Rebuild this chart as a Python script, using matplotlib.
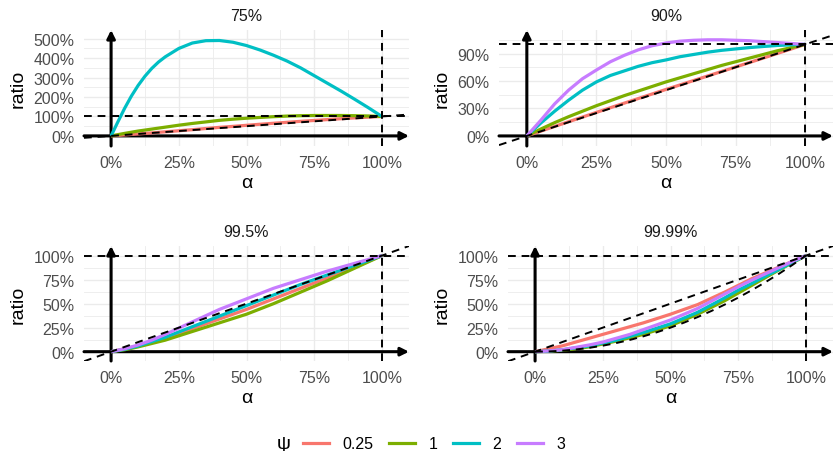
import matplotlib
matplotlib.use("Agg")
import matplotlib.pyplot as plt
from matplotlib.lines import Line2D

plt.rcParams['font.family'] = ['Liberation Sans', 'DejaVu Sans']

# ---------------- data ----------------
alpha = [0.00, 0.05, 0.10, 0.15, 0.20, 0.25, 0.30, 0.35, 0.40, 0.45, 0.50,
         0.55, 0.60, 0.65, 0.70, 0.75, 0.80, 0.85, 0.90, 0.95, 1.00]
alpha_fine = [0.00, 0.025, 0.05, 0.075, 0.10, 0.125, 0.15, 0.175, 0.20, 0.25, 0.30,
              0.35, 0.40, 0.45, 0.50, 0.55, 0.60, 0.65, 0.70, 0.75, 0.80,
              0.85, 0.90, 0.95, 1.00]

psi_labels = ["0.25", "1", "2", "3"]
psi_colors = ["#F8766D", "#7CAE00", "#00BFC4", "#C77CFF"]
panel_titles = ["75%", "90%", "99.5%", "99.99%"]

# level 75%
r75_psi025 = [0, 0.05, 0.10, 0.155, 0.21, 0.265, 0.32, 0.38, 0.44, 0.49, 0.545,
              0.60, 0.65, 0.70, 0.75, 0.795, 0.84, 0.885, 0.925, 0.965, 1.0]
r75_psi1 = [0, 0.13, 0.25, 0.35, 0.45, 0.55, 0.64, 0.72, 0.80, 0.86, 0.91,
            0.95, 0.99, 1.02, 1.04, 1.05, 1.05, 1.05, 1.04, 1.025, 1.0]
r75_psi2 = [0, 0.72, 1.42, 2.05, 2.60, 3.07, 3.47, 3.80, 4.07, 4.50, 4.78,
            4.90, 4.91, 4.82, 4.65, 4.42, 4.15, 3.85, 3.50, 3.10, 2.70,
            2.30, 1.88, 1.45, 1.0]

# level 90%
r90_psi025 = [0, 0.052, 0.104, 0.155, 0.206, 0.257, 0.308, 0.358, 0.408, 0.458, 0.508,
              0.557, 0.606, 0.655, 0.704, 0.753, 0.802, 0.851, 0.901, 0.950, 1.0]
r90_psi1 = [0, 0.075, 0.145, 0.21, 0.27, 0.33, 0.385, 0.44, 0.49, 0.54, 0.59,
            0.635, 0.68, 0.725, 0.77, 0.81, 0.85, 0.89, 0.93, 0.965, 1.0]
r90_psi2 = [0, 0.14, 0.27, 0.39, 0.50, 0.59, 0.66, 0.71, 0.76, 0.80, 0.83,
            0.865, 0.89, 0.915, 0.935, 0.95, 0.965, 0.977, 0.988, 0.995, 1.0]
r90_psi3 = [0, 0.17, 0.35, 0.50, 0.625, 0.72, 0.81, 0.88, 0.94, 0.985, 1.015,
            1.035, 1.045, 1.05, 1.05, 1.045, 1.04, 1.03, 1.02, 1.01, 1.0]

# level 99.5%
r995_psi025 = [0, 0.03, 0.06, 0.10, 0.14, 0.19, 0.24, 0.29, 0.34, 0.39, 0.44,
               0.495, 0.55, 0.605, 0.66, 0.715, 0.77, 0.83, 0.885, 0.94, 1.0]
r995_psi1 = [0, 0.02, 0.05, 0.085, 0.12, 0.165, 0.21, 0.255, 0.30, 0.345, 0.39,
             0.445, 0.50, 0.56, 0.62, 0.68, 0.74, 0.805, 0.87, 0.935, 1.0]
r995_psi2 = [0, 0.025, 0.06, 0.105, 0.15, 0.205, 0.26, 0.315, 0.37, 0.425, 0.48,
             0.535, 0.59, 0.645, 0.70, 0.75, 0.80, 0.85, 0.90, 0.95, 1.0]
r995_psi3 = [0, 0.03, 0.07, 0.12, 0.18, 0.245, 0.31, 0.375, 0.44, 0.495, 0.55,
             0.605, 0.66, 0.705, 0.75, 0.795, 0.84, 0.88, 0.92, 0.96, 1.0]

# level 99.99%
r9999_psi025 = [0, 0.03, 0.06, 0.10, 0.14, 0.18, 0.22, 0.26, 0.30, 0.345, 0.39,
                0.44, 0.49, 0.555, 0.62, 0.69, 0.76, 0.82, 0.88, 0.94, 1.0]
r9999_psi1 = [0, 0.005, 0.015, 0.03, 0.05, 0.08, 0.11, 0.145, 0.18, 0.225, 0.27,
              0.33, 0.39, 0.46, 0.53, 0.61, 0.69, 0.77, 0.85, 0.925, 1.0]
r9999_psi2 = [0, 0.006, 0.02, 0.04, 0.06, 0.09, 0.12, 0.16, 0.20, 0.245, 0.29,
              0.35, 0.41, 0.485, 0.56, 0.64, 0.71, 0.785, 0.855, 0.93, 1.0]
r9999_psi3 = [0, 0.008, 0.02, 0.045, 0.07, 0.10, 0.14, 0.18, 0.23, 0.28, 0.33,
              0.39, 0.45, 0.525, 0.60, 0.675, 0.745, 0.81, 0.875, 0.94, 1.0]
r9999_ref = [0, 0.0025, 0.01, 0.0225, 0.04, 0.0625, 0.09, 0.1225, 0.16, 0.2025, 0.25,
             0.3025, 0.36, 0.4225, 0.49, 0.5625, 0.64, 0.7225, 0.81, 0.9025, 1.0]

x_ticks = [0, 0.25, 0.5, 0.75, 1.0]
x_tick_labels = ["0%", "25%", "50%", "75%", "100%"]
x_minor = [0.125, 0.375, 0.625, 0.875]

y_ticks_75 = [0, 1, 2, 3, 4, 5]
y_labels_75 = ["0%", "100%", "200%", "300%", "400%", "500%"]
y_minor_75 = [-0.5, 0.5, 1.5, 2.5, 3.5, 4.5]
y_ticks_90 = [0, 0.3, 0.6, 0.9]
y_labels_90 = ["0%", "30%", "60%", "90%"]
y_minor_90 = [0.15, 0.45, 0.75, 1.05]
y_ticks_99 = [0, 0.25, 0.5, 0.75, 1.0]
y_labels_99 = ["0%", "25%", "50%", "75%", "100%"]
y_minor_99 = [0.125, 0.375, 0.625, 0.875]

# ---------------- figure ----------------
W, H = 833, 452
fig = plt.figure(figsize=(W / 100, H / 100), dpi=100)

def rect(l, r, t, b):
    return [l / W, 1 - b / H, (r - l) / W, (b - t) / H]

panels = [
    dict(title=panel_titles[0], rect=rect(84, 409, 31, 147), ylim=(-0.52, 5.45),
         yt=y_ticks_75, yl=y_labels_75, ym=y_minor_75,
         series=[(alpha, r75_psi025), (alpha, r75_psi1), (alpha_fine, r75_psi2), None],
         ref=None),
    dict(title=panel_titles[1], rect=rect(499, 833, 31, 147), ylim=(-0.11, 1.157),
         yt=y_ticks_90, yl=y_labels_90, ym=y_minor_90,
         series=[(alpha, r90_psi025), (alpha, r90_psi1), (alpha, r90_psi2), (alpha, r90_psi3)],
         ref=None),
    dict(title=panel_titles[2], rect=rect(84, 409, 247, 362), ylim=(-0.097, 1.10),
         yt=y_ticks_99, yl=y_labels_99, ym=y_minor_99,
         series=[(alpha, r995_psi025), (alpha, r995_psi1), (alpha, r995_psi2), (alpha, r995_psi3)],
         ref=None),
    dict(title=panel_titles[3], rect=rect(508, 833, 247, 362), ylim=(-0.097, 1.10),
         yt=y_ticks_99, yl=y_labels_99, ym=y_minor_99,
         series=[(alpha, r9999_psi025), (alpha, r9999_psi1), (alpha, r9999_psi2), (alpha, r9999_psi3)],
         ref=r9999_ref),
]

dash = (0, (4, 3))
XL = (-0.1, 1.1)
for p in panels:
    ax = fig.add_axes(p["rect"])
    ax.set_xlim(*XL)
    ax.set_ylim(*p["ylim"])
    ax.set_xticks(x_ticks)
    ax.set_xticklabels(x_tick_labels)
    ax.set_xticks(x_minor, minor=True)
    ax.set_yticks(p["yt"])
    ax.set_yticklabels(p["yl"])
    ax.set_yticks(p["ym"], minor=True)
    ax.grid(which="major", color="#EBEBEB", lw=1.0)
    ax.grid(which="minor", color="#EBEBEB", lw=0.6)
    ax.set_axisbelow(True)
    for s in ax.spines.values():
        s.set_visible(False)
    ax.tick_params(which="both", length=0, labelsize=11.5, labelcolor="#4D4D4D")
    ax.tick_params(axis="x", pad=6.5)
    ax.tick_params(axis="y", pad=7)
    ax.set_xlabel("α", fontsize=14, labelpad=3, color="black")
    ax.set_ylabel("ratio", fontsize=14, labelpad=5, color="black")
    ax.set_title(p["title"], fontsize=11.5, color="#1A1A1A", pad=7)

    # axis arrows
    lo, hi = p["ylim"]
    ap = dict(arrowstyle="-|>", lw=2.2, color="black", mutation_scale=12,
              shrinkA=0, shrinkB=0)
    ax.annotate("", xy=(XL[1], 0), xytext=(XL[0], 0), arrowprops=ap,
                annotation_clip=False, zorder=2)
    ax.annotate("", xy=(0, hi), xytext=(0, lo), arrowprops=ap,
                annotation_clip=False, zorder=2)

    for s, col in zip(p["series"], psi_colors):
        if s is None:
            continue
        xs, ys = s
        ax.plot(xs, ys, color=col, lw=2.3, solid_capstyle="butt",
                solid_joinstyle="round", zorder=3)

    if p["ref"] is not None:
        ax.plot(alpha, p["ref"], color="black", lw=1.4, ls=dash, zorder=4)
    ax.axhline(1, color="black", lw=1.4, ls=dash, zorder=4)
    ax.axvline(1, color="black", lw=1.4, ls=dash, zorder=4)
    ax.plot(list(XL), list(XL), color="black", lw=1.4, ls=dash, zorder=4)

handles = [Line2D([0], [0], color=c, lw=2.3) for c in psi_colors]
fig.legend(handles, psi_labels, loc="center", bbox_to_anchor=(0.521, 0.016),
           ncol=4, frameon=False, fontsize=11.5, handlelength=1.63,
           handletextpad=0.87, columnspacing=0.95, borderaxespad=0)
fig.text(0.340, 0.016, "ψ", fontsize=14, va="center", ha="center")

fig.savefig("out.png", dpi=100)
